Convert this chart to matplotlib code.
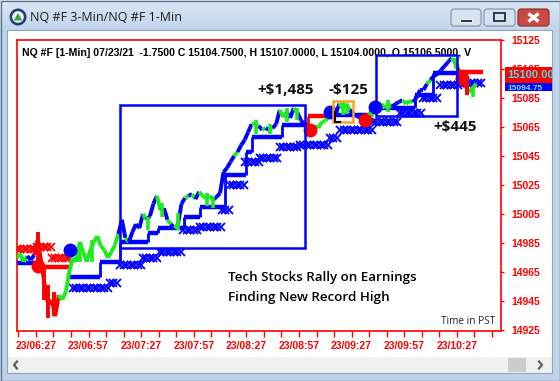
import numpy as np
import matplotlib
matplotlib.use("Agg")
import matplotlib.pyplot as plt
from matplotlib.patches import Rectangle, Circle, Polygon, FancyBboxPatch
from matplotlib.collections import LineCollection

W, H = 560, 381

# ---------------- data: minutes after 06:00 (23 Jul 2021), NQ price ----------------
bar_start = 16
bar_step = 2
price_close = [
    14974.75, 14977.5, 14972.0, 14976.0, 14973.25, 14976.75, 14987.0, 14972.0, 14956.0, 14942.25,
    14945.75, 14934.5, 14949.0, 14945.75, 14951.25, 14965.0, 14974.75, 14972.0, 14985.75, 14978.75,
    14972.0, 14980.25, 14985.75, 14989.75, 14983.0, 14980.25, 14974.75, 14978.75, 14983.5, 14991.25,
    15001.0, 14988.5, 14985.75, 14992.5, 14998.0, 14995.25, 15005.0, 15001.0, 15003.5, 15012.0,
    15017.5, 15007.75, 15009.0, 15001.0, 14998.0, 14995.25, 14998.0, 15012.0, 15016.0, 15017.5,
    15018.75, 15015.25, 15020.25, 15017.5, 15016.0, 15017.5, 15014.75, 15016.75, 15019.5,
    15034.0, 15036.75, 15041.0, 15045.0, 15047.75, 15052.5, 15056.0, 15061.5, 15067.0, 15067.0,
    15065.75, 15063.0, 15064.25, 15063.0, 15064.25, 15067.0, 15076.75, 15071.75, 15075.25, 15071.25,
    15078.0, 15075.25, 15069.75, 15067.0, 15064.25, 15063.0, 15065.75, 15064.25, 15068.5, 15069.0,
    15072.5,
    15075.25, 15074.0, 15081.0, 15078.0, 15081.0, 15076.75, 15074.0, 15072.5, 15071.25, 15069.75,
    15072.5, 15075.25, 15078.75, 15079.5, 15081.0, 15078.0, 15081.0, 15078.75, 15081.0, 15082.25,
    15083.5, 15081.0, 15083.0, 15082.25, 15085.0, 15090.5, 15090.5, 15094.75, 15097.5, 15100.25,
    15101.5, 15104.25, 15107.0, 15109.75, 15112.5, 15109.75, 15104.25, 15098.75, 15093.25, 15089.0,
    15091.75, 15094.75,
]
price_color = ("gggg" "bb" "rrrrrrr" "ggggggggggggggggg" "bb" "g" "bbbb" "g" "bbb" "g" "bb" "g" "b" "g"
               "bb" "g" "b" "g" "b" "gggg" "bbbbbb" "g" "bbbb" "gg" "b" "g" "b" "g" "bb" "gg" "bb" "g"
               "bbb" "gggggg" "bbb" "ggg" "bbbb" "gg" "bb" "gggg" "bbb" "ggg" "bbbb" "g" "bbbbbb" "g"
               "rrrr" "gg")

green_bar_t = [52, 59, 91, 99, 108, 124.5, 128, 152.5, 160.5, 170, 176, 202, 204.5, 218.5, 227.5, 266.5, 276]
green_bar_lo = [14972.0, 14972.0, 14994.0, 15003.0, 14994.0, 15010.5, 15009.0, 15060.0, 15060.0, 15068.5,
                15069.75, 15073.25, 15074.0, 15072.0, 15075.25, 15105.25, 15086.0]
green_bar_hi = [14985.75, 14987.0, 15003.0, 15012.5, 15005.75, 15019.5, 15017.5, 15070.0, 15067.0, 15078.0,
                15078.0, 15082.25, 15081.0, 15078.75, 15083.5, 15112.5, 15093.0]

red_bar_t = [28, 31.5, 34, 37.5, 273]
red_bar_lo = [14971.75, 14945.75, 14933.25, 14934.5, 15087.0]
red_bar_hi = [14992.5, 14969.75, 14956.0, 14951.25, 15095.25]

# trailing stop (step line)
stop_t = [16, 29, 46, 63.5, 75, 91, 96.5, 111.5, 120.5, 135, 147, 150, 167.5, 182, 194.5, 217.5, 243, 253.5, 267.5]
stop_end = 282
stop_p = [14971.25, 14968.5, 14961.5, 14972.0, 14985.75, 14992.0, 14995.25, 15003.0, 15010.0, 15032.0,
          15047.75, 15058.0, 15066.5, 15072.5, 15073.25, 15078.0, 15087.0, 15102.25, 15103.0]
stop_c = ["b", "r", "b", "b", "b", "b", "b", "b", "b", "b", "b", "b", "b", "r", "b", "b", "b", "b", "r"]

# X-marker stop series
xs_start = [16, 27.5, 36, 48, 69, 75, 88, 97.5, 111, 120.5, 133, 137.5, 146, 154.5, 166, 177.5,
            194.5, 200.5, 219, 234.5, 247.5, 257.5, 269]
xs_end = 282
xs_level = [14981.0, 14982.0, 14974.75, 14954.0, 14957.5, 14969.75, 14974.75, 14978.75, 14994.0, 14996.0,
            15007.75, 15025.0, 15041.0, 15043.5, 15051.25, 15052.5, 15057.5, 15063.0, 15068.5, 15074.75,
            15085.0, 15094.0, 15095.25]
xs_color = ["r", "r", "r"] + ["b"] * 20

# entry / exit signals
dot_t = [28, 46.5, 183.5, 194.5, 214.5, 220.5, 270]
dot_p = [14969.0, 14980.25, 15063.0, 15075.25, 15069.75, 15078.75, 15098.75]
dot_c = ["r", "b", "r", "b", "r", "b", "r"]

# trade boxes
box_t0 = [75, 221, 196.5]
box_t1 = [180.5, 267, 208]
box_lo = [14981.5, 15072.5, 15068.5]
box_hi = [15080.25, 15114.75, 15083.0]
box_color = ["#0000FF", "#0000FF", "#FFA020"]

bracket_t = [197.5, 197.5, 200.5]
bracket_p = [15075.0, 15068.5, 15068.5]

pnl_text = ["+$1,485", "-$125", "+$445"]
pnl_t = [169.5, 205, 266]
pnl_p = [15090.5, 15090.5, 15065.0]

price_ticks = [14925, 14945, 14965, 14985, 15005, 15025, 15045, 15065, 15085, 15105, 15125]
time_ticks = [27, 57, 87, 117, 147, 177, 207, 237, 267]
time_labels = ["23/06:27", "23/06:57", "23/07:27", "23/07:57", "23/08:27",
               "23/08:57", "23/09:27", "23/09:57", "23/10:27"]
time_minor = [17, 37, 47, 67, 77, 97, 107, 127, 137, 157, 167, 187, 197, 217, 227, 247, 257, 277, 287]

header = "NQ #F [1-Min] 07/23/21  -1.7500 C 15104.7500, H 15107.0000, L 15104.0000, O 15106.5000, V"
last_price = "15100.00"
last_price2 = "15094.75"

CMAP = {"g": "#1EEB1E", "b": "#0000FF", "r": "#FF0000"}

# ---------------- figure & window chrome (pixel space) ----------------
fig = plt.figure(figsize=(W / 100, H / 100), dpi=100)
bg = fig.add_axes([0, 0, 1, 1], zorder=-5)
bg.set_xlim(0, W); bg.set_ylim(H, 0); bg.set_axis_off()
c_top = np.array([0xDB, 0xE7, 0xF4]) / 255
c_bot = np.array([0xC2, 0xD5, 0xEC]) / 255
c_frm = np.array([0xBF, 0xD3, 0xEA]) / 255
img = np.zeros((H, 1, 3))
for i in range(H):
    if i < 30:
        f = i / 29
        img[i, 0] = c_top * (1 - f) + c_bot * f
    else:
        img[i, 0] = c_frm
bg.imshow(img, extent=(0, W, H, 0), aspect="auto")
bg.add_patch(Rectangle((0.5, 0.5), W - 1, H - 1, fill=False, ec="#5F7590", lw=1))
bg.add_patch(Rectangle((7, 30), 545, 327, fc="white", ec="none"))
bg.add_patch(Rectangle((7, 357), 545, 16, fc="#F0F0F0", ec="none"))
bg.add_patch(Rectangle((7, 30), 545, 343, fill=False, ec="#8EA4BF", lw=0.8))
bg.add_patch(Rectangle((508, 358), 18, 14, fc="#CDCDCD", ec="none"))
bg.plot([17, 14, 17], [361.5, 365, 368.5], color="#606060", lw=1.6)
bg.plot([539, 542, 539], [361.5, 365, 368.5], color="#606060", lw=1.6)
# icon
bg.add_patch(Circle((18, 17), 8, fc="#24427D", ec="#1A2F5C", lw=0.6))
bg.add_patch(Circle((18, 17), 5.8, fc="#F4F8FC", ec="none"))
bg.add_patch(Polygon([(13.8, 20.5), (18, 12.8), (22.2, 20.5)], closed=True, fc="#2FA83A", ec="none"))
bg.text(30, 17.5, "NQ #F 3-Min/NQ #F 1-Min", fontsize=9, family="Open Sans", va="center",
        ha="left", color="#1B1B1B")
# window buttons
for x0, w in [(451, 30), (484, 31)]:
    bg.add_patch(FancyBboxPatch((x0, 9), w, 17, boxstyle="round,pad=0,rounding_size=3",
                                fc="#D6E2F0", ec="#7F91A9", lw=0.8))
bg.add_patch(Rectangle((460, 19), 12, 3, fc="#2E3B4E", ec="white", lw=0.6))
bg.add_patch(Rectangle((494, 13), 11, 8, fill=False, ec="#2E3B4E", lw=1.4))
bg.add_patch(FancyBboxPatch((518, 9), 31, 17, boxstyle="round,pad=0,rounding_size=3",
                            fc="#C94A40", ec="#8B2B23", lw=0.8))
bg.plot([528.5, 538.5], [13.5, 21.5], color="white", lw=2.4, solid_capstyle="butt")
bg.plot([528.5, 538.5], [21.5, 13.5], color="white", lw=2.4, solid_capstyle="butt")

# ---------------- main chart ----------------
ax = fig.add_axes([17 / W, 1 - 331 / H, 484 / W, 291 / H], zorder=1)
ax.set_facecolor("white")
ax.set_xlim(16.2, 292.2)
ax.set_ylim(14924.3, 15125.0)
for s in ax.spines.values():
    s.set_color("#FF0000"); s.set_linewidth(1.2)

# X-marker stop series
for i, (t0, lv, c) in enumerate(zip(xs_start, xs_level, xs_color)):
    t1 = xs_start[i + 1] if i + 1 < len(xs_start) else xs_end
    ts = np.arange(t0, t1, 2.0)
    ax.plot(ts, np.full(len(ts), lv), ls="none", marker="x", ms=5.2, mew=1.3,
            color=CMAP[c], zorder=2)

# step line
for i, (t0, lv, c) in enumerate(zip(stop_t, stop_p, stop_c)):
    t1 = stop_t[i + 1] if i + 1 < len(stop_t) else stop_end
    ax.hlines(lv, t0, t1, colors=CMAP[c], lw=3.2, zorder=3)
    if i > 0:
        ax.vlines(t0, stop_p[i - 1], lv, colors=CMAP[c], lw=2.0, zorder=3)

# price path
bt = bar_start + bar_step * np.arange(len(price_close))
pts = np.column_stack([bt, price_close])
segs = np.stack([pts[:-1], pts[1:]], axis=1)
cols = [CMAP[c] for c in price_color[1:len(price_close)]]
ax.add_collection(LineCollection(segs[:len(cols)], colors=cols, linewidths=2.8, zorder=4))
ax.vlines(green_bar_t, green_bar_lo, green_bar_hi, colors=CMAP["g"], lw=2.6, zorder=4)
ax.vlines(red_bar_t, red_bar_lo, red_bar_hi, colors=CMAP["r"], lw=2.8, zorder=4)

# signals
for t, p, c in zip(dot_t, dot_p, dot_c):
    ax.plot([t], [p], marker="o", ms=10, color=CMAP[c], mec="none", zorder=5)

# trade boxes
for t0, t1, lo, hi, c in zip(box_t0, box_t1, box_lo, box_hi, box_color):
    ax.add_patch(Rectangle((t0, lo), t1 - t0, hi - lo, fill=False, ec=c, lw=1.8, zorder=6))
ax.plot(bracket_t, bracket_p, color="black", lw=1.5, zorder=6)

for s, t, p in zip(pnl_text, pnl_t, pnl_p):
    ax.text(t, p, s, ha="center", va="center", fontsize=11, fontweight="bold",
            family="Open Sans", color="#111111", zorder=7)

# header & notes
ax.text((22 - 17) / 484, 1 - (52.5 - 40) / 291, header, transform=ax.transAxes, fontsize=7.6,
        fontweight="bold", family="Liberation Sans", ha="left", va="center", color="black", zorder=1)
ax.text((228 - 17) / 484, 1 - (278 - 40) / 291, "Tech Stocks Rally on Earnings", transform=ax.transAxes,
        fontsize=9.6, fontweight="semibold", family="Open Sans", ha="left", va="center", color="#000000")
ax.text((228 - 17) / 484, 1 - (297 - 40) / 291, "Finding New Record High", transform=ax.transAxes,
        fontsize=9.6, fontweight="semibold", family="Open Sans", ha="left", va="center", color="#000000")
ax.text((495 - 17) / 484, 1 - (322 - 40) / 291, "Time in PST", transform=ax.transAxes,
        fontsize=7.2, family="Open Sans", ha="right", va="center", color="#222222")

# axes ticks
ax.yaxis.tick_right()
ax.set_yticks(price_ticks)
ax.set_yticklabels([str(v) for v in price_ticks])
ax.tick_params(axis="y", direction="out", length=2.5, width=1, color="#FF0000", pad=5,
               labelsize=7.5, labelcolor="#FF0000")
ax.set_xticks(time_ticks)
ax.set_xticklabels(time_labels)
ax.set_xticks(time_minor, minor=True)
ax.tick_params(axis="x", which="both", direction="out", length=4, width=1, color="#FF0000", pad=3,
               labelsize=7.5, labelcolor="#FF0000")
for lbl in ax.get_xticklabels() + ax.get_yticklabels():
    lbl.set_fontweight("bold"); lbl.set_family("Liberation Sans")

# ---------------- overlay: last price boxes ----------------
ov = fig.add_axes([0, 0, 1, 1], zorder=10)
ov.set_xlim(0, W); ov.set_ylim(H, 0); ov.set_axis_off(); ov.patch.set_alpha(0)
r1 = Rectangle((505, 67), 47, 16, fc="#FF0000", ec="none")
r2 = Rectangle((505, 83), 47, 8, fc="#0000FF", ec="none")
ov.add_patch(r2); ov.add_patch(r1)
t2 = ov.text(507, 88.0, last_price2, fontsize=6.0, fontweight="bold", family="Liberation Sans",
             color="#7FE8F0", ha="left", va="center")
t2.set_clip_path(r2)
t1 = ov.text(507, 75.5, last_price, fontsize=8, fontweight="bold", family="Liberation Sans",
             color="#40E0E8", ha="left", va="center")
t1.set_clip_path(r1)

fig.savefig("out.png", dpi=100)
